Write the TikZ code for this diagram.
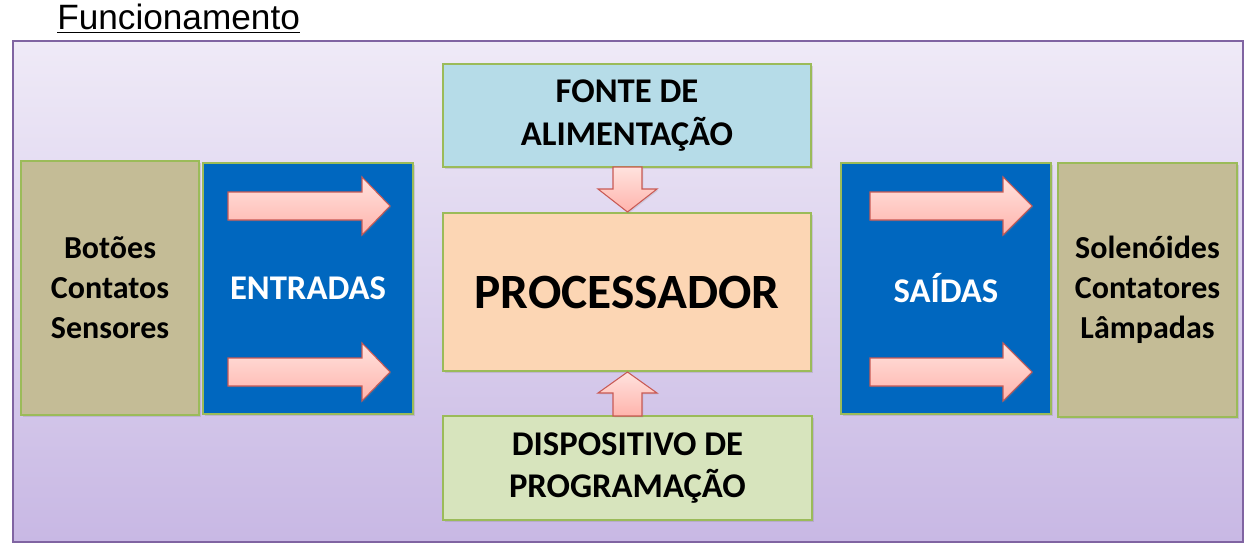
\documentclass[tikz,border=0pt]{standalone}
\usepackage{fontspec}
\setmainfont{Carlito}
\newfontfamily\titlefont{Liberation Sans}
\usetikzlibrary{shadows}
\definecolor{framebd}{HTML}{8064A2}
\definecolor{bgtop}{HTML}{EFEAF7}
\definecolor{bgbot}{HTML}{C8B8E4}
\definecolor{boxbd}{HTML}{9BBB59}
\definecolor{tanc}{HTML}{C4BC96}
\definecolor{bluebox}{HTML}{0067BF}
\definecolor{fonte}{HTML}{B6DCE8}
\definecolor{proc}{HTML}{FCD6B4}
\definecolor{prog}{HTML}{D7E4BD}
\definecolor{arrtop}{HTML}{FFE2DE}
\definecolor{arrbot}{HTML}{FFB4AC}
\definecolor{arrbd}{HTML}{C95A55}
\tikzset{
  box/.style={inner sep=0pt, draw=boxbd, line width=0.8pt, align=center,
    drop shadow={opacity=0.25, shadow xshift=1.5pt, shadow yshift=-1.5pt}},
  blk/.style={font=\bfseries\fontsize{26}{32}\selectfont},
  sidetxt/.style={font=\bfseries\fontsize{24}{30}\selectfont},
  pinkarrow/.style={draw=arrbd, line width=0.8pt, top color=arrtop, bottom color=arrbot,
    drop shadow={opacity=0.2, shadow xshift=1pt, shadow yshift=-1pt}},
}
\begin{document}
\begin{tikzpicture}[x=0.75pt,y=-0.75pt]
\useasboundingbox (0,0) rectangle (1258,546);
% frame
\fill[top color=bgtop, bottom color=bgbot] (13,41) rectangle (1243,542);
\draw[framebd, line width=1.1pt] (13,41) rectangle (1243,542);
% title
\node[anchor=base west, inner sep=0pt, font=\titlefont\fontsize{26.4}{30}\selectfont] (title) at (57,30) {\underline{Funcionamento}};
% boxes
\node[box, minimum width=133.5pt, minimum height=190.5pt, fill=tanc, sidetxt] (inp) at (110,288) {Botões\\Contatos\\Sensores};
\node[box, minimum width=157.5pt, minimum height=188.25pt, fill=bluebox, blk, text=white] (entr) at (308,288.5) {ENTRADAS};
\node[box, minimum width=276pt, minimum height=77.25pt, fill=fonte, blk] (fonte) at (627,115.5) {FONTE DE\\ALIMENTAÇÃO};
\node[box, minimum width=276pt, minimum height=118.5pt, fill=proc, font=\bfseries\fontsize{37}{40}\selectfont] (proc) at (627,292) {PROCESSADOR};
\node[box, minimum width=276.75pt, minimum height=78pt, fill=prog, blk] (prog) at (627.5,468) {DISPOSITIVO DE\\PROGRAMAÇÃO};
\node[box, minimum width=157.5pt, minimum height=188.25pt, fill=bluebox, blk, text=white] (said) at (946,288.5) {SAÍDAS};
\node[box, minimum width=134.25pt, minimum height=190.5pt, fill=tanc, sidetxt] (outp) at (1147.5,290) {Solenóides\\Contatores\\Lâmpadas};
% horizontal arrows
\foreach \xa/\xb/\xc/\yc in {228/362/390/206, 228/362/390/372, 870/1003/1032/206, 870/1003/1032/372}{
  \path[pinkarrow] (\xa,\yc-14) -- (\xb,\yc-14) -- (\xb,\yc-29) -- (\xc,\yc) -- (\xb,\yc+29)
    -- (\xb,\yc+14) -- (\xa,\yc+14) -- cycle;
}
% vertical arrows
\path[pinkarrow] (613,167) -- (642,167) -- (642,189) -- (657,189) -- (627.5,212) -- (598,189) -- (613,189) -- cycle;
\path[pinkarrow] (613,416) -- (642,416) -- (642,393) -- (657,393) -- (627.5,372) -- (598,393) -- (613,393) -- cycle;
\end{tikzpicture}
\end{document}
